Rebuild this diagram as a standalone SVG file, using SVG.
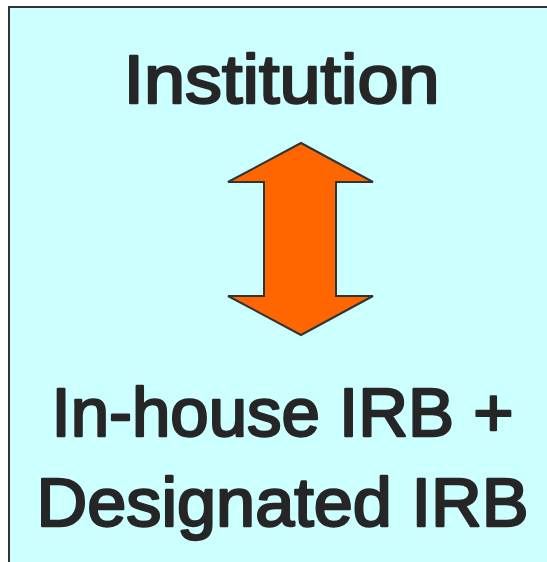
<svg xmlns="http://www.w3.org/2000/svg" width="547" height="562" viewBox="0 0 547 562">
  <style>
    .label { font-family: "Liberation Sans", Arial, sans-serif; font-size: 69px; fill: #262626; stroke: #262626; stroke-width: 2.4; stroke-linejoin: round; text-anchor: middle; }
  </style>
  <rect width="547" height="562" fill="#ffffff"/>
  <g id="panel">
    <rect x="9" y="7" width="560" height="580" fill="#ccffff" stroke="#333333" stroke-width="2"/>
  </g>
  <g id="institution">
    <text class="label" x="281.5" y="103" textLength="316" lengthAdjust="spacingAndGlyphs">Institution</text>
  </g>
  <g id="connectors">
    <polygon points="301,143 373,182 336,182 336,296 373,296 301,335 228,296 264,296 264,182 228,182" fill="#ff6600" stroke="#333333" stroke-width="2" stroke-linejoin="miter"/>
  </g>
  <g id="irb">
    <text class="label" x="282.5" y="436" textLength="462" lengthAdjust="spacingAndGlyphs">In-house IRB +</text>
    <text class="label" x="282.5" y="526" textLength="492" lengthAdjust="spacingAndGlyphs">Designated IRB</text>
  </g>
</svg>
